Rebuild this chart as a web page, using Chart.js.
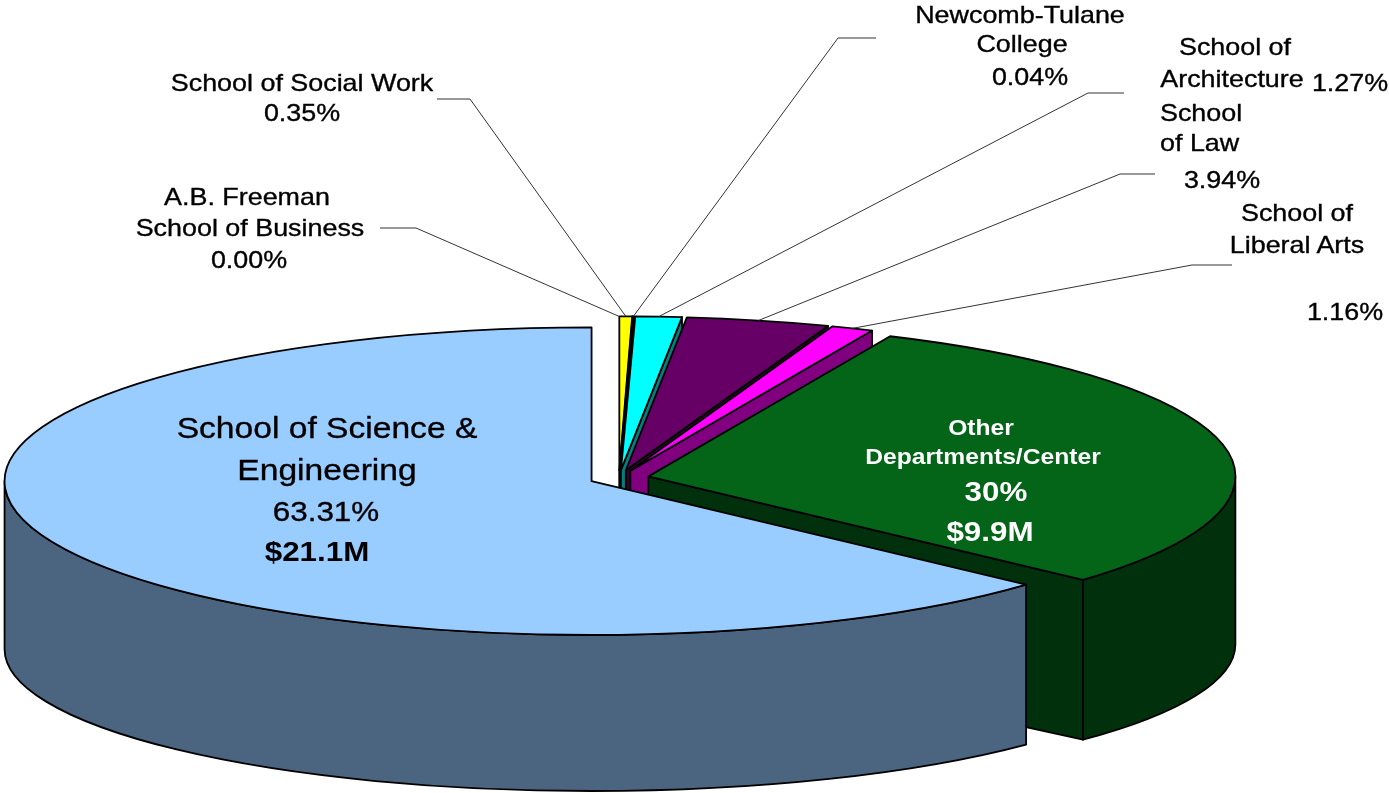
<!DOCTYPE html>
<html lang="en">
<head>
<meta charset="UTF-8">
<title>Research Expenditures by School</title>
<script src="https://cdn.jsdelivr.net/npm/chart.js"></script>
<style>
  html, body { margin: 0; padding: 0; background: #fff; }
  #wrap { position: relative; width: 1389px; height: 793px; overflow: hidden; }
  #pie { position: absolute; left: 0; top: 0; }
  .lbl { position: absolute; font-family: "Liberation Sans", Arial, sans-serif; color: #000;
         white-space: nowrap; line-height: 1; }
</style>
</head>
<body>
<div id="wrap">
  <canvas id="pie" width="1389" height="793"></canvas>
</div>
<script>
// categories, clockwise from 12 o'clock
const schools = [
  "A.B. Freeman School of Business",
  "School of Social Work",
  "Newcomb-Tulane College",
  "School of Architecture",
  "School of Law",
  "School of Liberal Arts",
  "Other Departments/Center",
  "School of Science & Engineering"
];
const shares = [0.00, 0.35, 0.04, 1.27, 3.94, 1.16, 30, 63.31];
const pctLabels = ["0.00%", "0.35%", "0.04%", "1.27%", "3.94%", "1.16%", "30%", "63.31%"];
const amountLabels = ["", "", "", "", "", "", "$9.9M", "$21.1M"];
const nameLines = [
  ["A.B. Freeman", "School of Business"],
  ["School of Social Work"],
  ["Newcomb-Tulane", "College"],
  ["School of", "Architecture"],
  ["School", "of Law"],
  ["School of", "Liberal Arts"],
  ["Other", "Departments/Center"],
  ["School of Science &", "Engineering"]
];

// styles
const topColors  = ["#9999FF", "#FFFF00", "#FFCC00", "#00FFFF", "#660066", "#FF00FF", "#046418", "#99CCFF"];
const sideColors = ["#4C4C80", "#808000", "#806600", "#008080", "#330033", "#800080", "#00300C", "#4B6480"];

// where the tilted pie sits on the page
const CX = 619, CY = 478, TILT = 0.262, DEPTH = 168, BOTTOM = 0.922;

// label layout: [x, y, size, bold, color, align]
const nameLayout = [
  [[247, 197, 24], [250, 228, 24]],
  [[302, 83, 24]],
  [[1020, 15, 24], [1022, 44, 24]],
  [[1235, 47, 24], [1232, 79, 24]],
  [[1160, 113, 24, 0, "#000", "left"], [1160, 143, 24, 0, "#000", "left"]],
  [[1297, 213, 24], [1297, 245, 24]],
  [[981, 428, 22, 1, "#fff"], [983, 457, 22, 1, "#fff"]],
  [[327, 428, 30], [327, 470, 30]]
];
const pctLayout = [
  [249, 260, 24], [302, 113, 24], [1030, 77, 24], [1350, 83, 24],
  [1222, 180, 24], [1345, 312, 24], [996, 492, 28, 1, "#fff"], [326, 512, 28]
];
const amountLayout = [null, null, null, null, null, null, [990, 532, 28, 1, "#fff"], [317, 552, 28, 1]];
// leader lines: label end, elbow (the slice end comes from the arc)
const leaders = [
  [[380, 228], [416, 228]],
  [[437, 99], [470, 99]],
  [[876, 38], [838, 38]],
  [[1124, 93], [1088, 93]],
  [[1155, 174], [1120, 174]],
  [[1232, 265], [1192, 265]]
];

function sliceGeom(chart) {
  const arcs = chart.getDatasetMeta(0).data;
  return arcs.map((arc, i) => {
    const mid = (arc.startAngle + arc.endAngle) / 2;
    const off = arc.options.offset || 0;
    const px = arc.x + off * Math.cos(mid);
    const py = arc.y + off * Math.sin(mid);
    return {
      i, mid,
      a1: arc.startAngle, a2: arc.endAngle,
      cx: CX + (px - arc.x), cy: CY + TILT * (py - arc.y),
      rx: arc.outerRadius, ry: arc.outerRadius * TILT,
      top: arc.options.backgroundColor, side: sideColors[i]
    };
  });
}

function drawSlice(ctx, s) {
  const {cx, cy, rx, ry, a1, a2} = s;
  if (a2 - a1 < 1e-6) return;
  const by = cy + DEPTH, bry = ry * BOTTOM;
  ctx.lineWidth = 1.8;
  ctx.strokeStyle = "#000";
  ctx.lineJoin = "round";

  const face = a => {
    ctx.beginPath();
    ctx.moveTo(cx, cy);
    ctx.lineTo(cx + rx * Math.cos(a), cy + ry * Math.sin(a));
    ctx.lineTo(cx + rx * Math.cos(a), by + bry * Math.sin(a));
    ctx.lineTo(cx, by);
    ctx.closePath();
    ctx.fillStyle = s.side;
    ctx.fill();
    ctx.stroke();
  };
  if (Math.cos(a1) < -1e-6) face(a1);
  if (Math.cos(a2) > 1e-6) face(a2);

  // outer wall, front half only
  const w0 = Math.max(a1, 0), w1 = Math.min(a2, Math.PI);
  if (w1 > w0) {
    ctx.beginPath();
    ctx.ellipse(cx, cy, rx, ry, 0, w0, w1);
    ctx.ellipse(cx, by, rx, bry, 0, w1, w0, true);
    ctx.closePath();
    ctx.fillStyle = s.side;
    ctx.fill();
    ctx.stroke();
  }

  // top
  ctx.beginPath();
  ctx.moveTo(cx, cy);
  ctx.ellipse(cx, cy, rx, ry, 0, a1, a2);
  ctx.closePath();
  ctx.fillStyle = s.top;
  ctx.fill();
  ctx.stroke();
}

const pie3d = {
  id: "pie3d",
  beforeDatasetsDraw(chart) {
    const ctx = chart.ctx;
    const slices = sliceGeom(chart);
    ctx.save();
    slices.slice()
      .sort((p, q) => Math.sin(p.mid) - Math.sin(q.mid))
      .forEach(s => drawSlice(ctx, s));

    // leader lines for the small slices
    ctx.strokeStyle = "#333";
    ctx.lineWidth = 1;
    leaders.forEach((pts, i) => {
      const s = slices[i];
      const ex = s.cx + s.rx * Math.cos(s.mid);
      const ey = s.cy + s.ry * Math.sin(s.mid);
      ctx.beginPath();
      ctx.moveTo(pts[0][0], pts[0][1]);
      ctx.lineTo(pts[1][0], pts[1][1]);
      ctx.lineTo(ex, ey);
      ctx.stroke();
    });
    ctx.restore();
    return false;
  }
};

new Chart(document.getElementById("pie"), {
  type: "pie",
  data: {
    labels: schools,
    datasets: [{
      data: shares,
      backgroundColor: topColors,
      borderWidth: 0,
      offset: 30,
      radius: 587
    }]
  },
  options: {
    responsive: false,
    animation: false,
    events: [],
    layout: { padding: 0 },
    plugins: { legend: { display: false }, tooltip: { enabled: false } }
  },
  plugins: [pie3d]
});

// text labels
const wrap = document.getElementById("wrap");
function addText(text, spec) {
  const [x, y, size, bold, color, align] = spec;
  const d = document.createElement("div");
  d.className = "lbl";
  d.textContent = text;
  d.style.left = x + "px";
  d.style.top = y + "px";
  d.style.fontSize = size + "px";
  d.style.fontWeight = bold ? "bold" : "normal";
  d.style.color = color || "#000";
  if (!bold) d.style.webkitTextStroke = "0.35px " + (color || "#000");
  if (align === "left") {
    d.style.transformOrigin = "left center";
    d.style.transform = "translate(0, -50%) scaleX(1.12)";
  } else {
    d.style.transform = "translate(-50%, -50%) scaleX(1.12)";
  }
  wrap.appendChild(d);
}
schools.forEach((name, i) => {
  nameLines[i].forEach((line, j) => addText(line, nameLayout[i][j]));
  addText(pctLabels[i], pctLayout[i]);
  if (amountLabels[i]) addText(amountLabels[i], amountLayout[i]);
});
</script>
</body>
</html>
